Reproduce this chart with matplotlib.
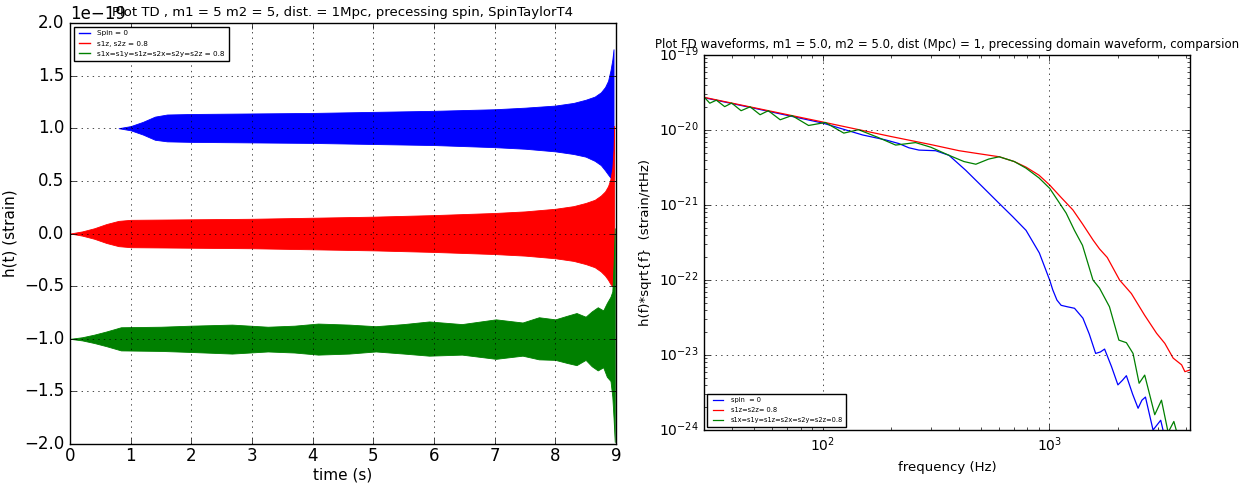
import matplotlib
matplotlib.use('Agg')
import matplotlib.pyplot as plt

plt.style.use('classic')

# time domain envelopes, in units of 1e-19 (offsets already included)
t_spin0 = [0.80, 1.0, 1.2, 1.4, 1.6, 2.0, 3.0, 4.0, 5.0, 6.0, 7.0, 7.5, 8.0, 8.3,
           8.5, 8.65, 8.75, 8.82, 8.87, 8.91, 8.94, 8.96]
up_spin0 = [1.00, 1.02, 1.06, 1.11, 1.13, 1.135, 1.14, 1.145, 1.155, 1.165, 1.18, 1.195,
            1.215, 1.24, 1.27, 1.30, 1.34, 1.39, 1.45, 1.55, 1.65, 1.75]
lo_spin0 = [1.00, 0.98, 0.94, 0.89, 0.875, 0.87, 0.865, 0.86, 0.85, 0.84, 0.82, 0.805,
            0.78, 0.755, 0.73, 0.69, 0.65, 0.60, 0.56, 0.53, 0.52, 0.55]

t_aligned = [0.0, 0.2, 0.4, 0.6, 0.8, 1.0, 2.0, 3.0, 4.0, 5.0, 6.0, 7.0, 7.5, 8.0, 8.3,
             8.5, 8.65, 8.75, 8.82, 8.87, 8.91, 8.94, 8.96, 8.97]
up_aligned = [0.0, 0.02, 0.05, 0.09, 0.12, 0.13, 0.135, 0.14, 0.15, 0.16, 0.175, 0.195,
              0.21, 0.235, 0.26, 0.29, 0.32, 0.36, 0.40, 0.45, 0.52, 0.62, 0.80, 1.02]
lo_aligned = [0.0, -0.02, -0.05, -0.09, -0.12, -0.13, -0.135, -0.14, -0.15, -0.16, -0.175,
              -0.195, -0.21, -0.235, -0.26, -0.29, -0.32, -0.36, -0.40, -0.44, -0.48,
              -0.50, -0.45, -0.20]

t_prec = [0.0, 0.2, 0.4, 0.6, 0.84, 1.5, 2.0, 2.67, 3.26, 3.7, 4.09, 4.6, 5.04, 5.5, 5.92,
          6.46, 7.02, 7.46, 7.73, 8.0, 8.2, 8.35, 8.5, 8.6, 8.7, 8.79, 8.85, 8.91, 8.94,
          8.96, 8.98]
up_prec = [-1.0, -0.985, -0.96, -0.93, -0.89, -0.885, -0.875, -0.865, -0.885, -0.875,
           -0.855, -0.865, -0.88, -0.86, -0.835, -0.86, -0.815, -0.845, -0.795, -0.815,
           -0.78, -0.755, -0.79, -0.74, -0.70, -0.73, -0.66, -0.60, -0.55, -0.30, 0.05]
lo_prec = [-1.0, -1.015, -1.04, -1.07, -1.11, -1.115, -1.125, -1.14, -1.12, -1.13, -1.15,
           -1.14, -1.12, -1.14, -1.16, -1.15, -1.19, -1.16, -1.195, -1.20, -1.23, -1.25,
           -1.20, -1.26, -1.30, -1.27, -1.36, -1.40, -1.55, -1.75, -1.98]

td_labels = ['Spin = 0', 's1z, s2z = 0.8', 's1x=s1y=s1z=s2x=s2y=s2z = 0.8']

# frequency domain, h(f)*sqrt(f)
f_spin0 = [30, 50, 100, 150, 189, 217, 240, 266, 315, 361, 428, 507, 601, 689, 789, 903,
           1003, 1035, 1080, 1127, 1200, 1291, 1406, 1500, 1600, 1680, 1752, 1880, 2006,
           2100, 2186, 2330, 2462, 2560, 2653, 2866, 3098, 3300, 3500, 4160]
h_spin0 = [2.70e-20, 1.95e-20, 1.24e-20, 8.6e-21, 7.4e-21, 6.6e-21, 5.8e-21, 5.4e-21,
           5.3e-21, 4.6e-21, 2.9e-21, 1.75e-21, 1.05e-21, 7.0e-22, 4.6e-22, 2.3e-22,
           1.0e-22, 7.4e-23, 5.4e-23, 4.6e-23, 4.4e-23, 4.2e-23, 3.1e-23, 1.9e-23,
           1.05e-23, 1.1e-23, 1.2e-23, 7.0e-24, 4.0e-24, 4.6e-24, 5.3e-24, 3.0e-24,
           1.95e-24, 2.5e-24, 2.75e-24, 1.0e-24, 1.35e-24, 6.0e-25, 8.0e-25, 3.0e-25]

f_aligned = [30, 50, 100, 200, 300, 400, 474, 601, 700, 789, 900, 1003, 1130, 1270, 1400,
             1560, 1664, 1800, 2040, 2300, 2630, 2970, 3230, 3515, 3830, 3960, 4160]
h_aligned = [2.73e-20, 1.98e-20, 1.28e-20, 8.2e-21, 6.4e-21, 5.3e-21, 4.9e-21, 4.4e-21,
             3.8e-21, 3.2e-21, 2.5e-21, 1.85e-21, 1.25e-21, 8.6e-22, 5.6e-22, 3.4e-22,
             2.6e-22, 2.0e-22, 1.0e-22, 6.6e-23, 3.4e-23, 1.95e-23, 1.43e-23, 9.1e-24,
             7.4e-24, 6.0e-24, 6.3e-24]

f_prec = [30.1, 31.8, 34.0, 37.0, 39.7, 43.7, 47.9, 53.0, 57.6, 65.0, 73.2, 86.7, 102.8,
          124, 144, 175, 210, 257, 300, 361, 420, 474, 540, 601, 700, 789, 900, 1003,
          1100, 1186, 1290, 1400, 1557, 1664, 1841, 2026, 2186, 2339, 2488, 2633, 2916,
          3122, 3340, 3540, 3800, 4160]
h_prec = [2.73e-20, 2.28e-20, 2.5e-20, 2.05e-20, 2.29e-20, 1.81e-20, 2.04e-20, 1.60e-20,
          1.81e-20, 1.37e-20, 1.56e-20, 1.15e-20, 1.26e-20, 9.1e-21, 1.01e-20, 8.0e-21,
          6.3e-21, 6.8e-21, 5.9e-21, 4.6e-21, 3.8e-21, 3.5e-21, 4.1e-21, 4.4e-21,
          3.8e-21, 3.1e-21, 2.3e-21, 1.67e-21, 1.1e-21, 7.8e-22, 4.6e-22, 2.9e-22,
          1.0e-22, 7.8e-23, 4.4e-23, 1.58e-23, 1.46e-23, 1.05e-23, 4.2e-24, 5.4e-24,
          1.6e-24, 2.5e-24, 9.3e-25, 1.3e-24, 6.0e-25, 4.0e-25]

fd_labels = ['spin  = 0', 's1z=s2z= 0.8', 's1x=s1y=s1z=s2x=s2y=s2z=0.8']

colors = ['b', 'r', 'g']
scale = 1e-19

fig = plt.figure(figsize=(12.55, 4.87), dpi=100, facecolor='white')

# ---- left: time domain ----
ax1 = fig.add_axes([0.0558, 0.088, 0.435, 0.865])
envs = [(t_spin0, up_spin0, lo_spin0), (t_aligned, up_aligned, lo_aligned),
        (t_prec, up_prec, lo_prec)]
for (t, up, lo), c, lab in zip(envs, colors, td_labels):
    ax1.fill_between(t, [u * scale for u in up], [l * scale for l in lo],
                     color=c, linewidth=0.6, edgecolor=c)
    ax1.plot([], [], color=c, label=lab)
ax1.set_xlim(0, 9)
ax1.set_ylim(-2e-19, 2e-19)
ax1.set_xticks(range(10))
ax1.grid(True)
ax1.tick_params(labelsize=12)
ax1.tick_params(axis='x', pad=2)
ax1.yaxis.get_offset_text().set_fontsize(12)
ax1.set_xlabel('time (s)', fontsize=11)
ax1.xaxis.set_label_coords(0.5, -0.055)
ax1.set_ylabel('h(t) (strain)', fontsize=11)
ax1.set_title('Plot TD , m1 = 5 m2 = 5, dist. = 1Mpc, precessing spin, SpinTaylorT4',
              fontsize=9.5, y=1.0)
ax1.legend(loc='upper left', fontsize=5.2, handlelength=2.0, borderpad=0.5,
           labelspacing=0.6, framealpha=1)

# ---- right: frequency domain ----
ax2 = fig.add_axes([0.561, 0.117, 0.387, 0.770])
for f, h, c, lab in zip([f_spin0, f_aligned, f_prec], [h_spin0, h_aligned, h_prec],
                        colors, fd_labels):
    ax2.loglog(f, h, color=c, linewidth=0.9, label=lab)
ax2.set_xlim(30, 4160)
ax2.set_ylim(1e-24, 1e-19)
ax2.grid(True)
ax2.tick_params(labelsize=10)
ax2.set_xlabel('frequency (Hz)', fontsize=9.5)
ax2.set_ylabel('h(f)*sqrt{f}  (strain/rtHz)', fontsize=9.5)
ax2.set_title('Plot FD waveforms, m1 = 5.0, m2 = 5.0, dist (Mpc) = 1, '
              'precessing domain waveform, comparsion', fontsize=8.5)
ax2.legend(loc='lower left', fontsize=4.8, handlelength=2.2, borderpad=0.5,
           labelspacing=0.6, framealpha=1)

fig.savefig('out.png', dpi=100, facecolor='white')
